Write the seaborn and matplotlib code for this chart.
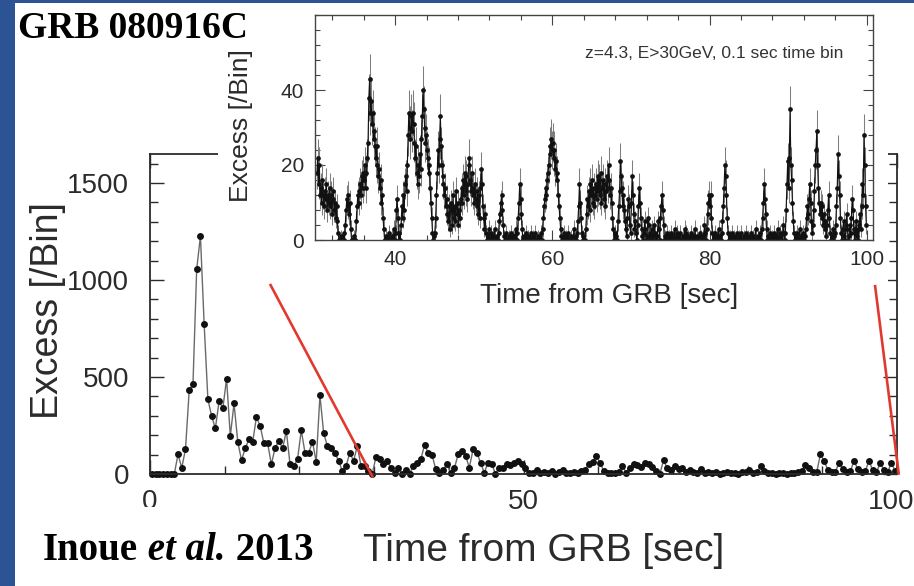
import numpy as np
import matplotlib
matplotlib.use("Agg")
import matplotlib.pyplot as plt
from matplotlib.patches import Rectangle
from matplotlib.lines import Line2D
from matplotlib.text import Annotation
from matplotlib.ticker import MultipleLocator, FixedLocator
from matplotlib.transforms import ScaledTranslation
import seaborn as sns

# ---------------- data ----------------
# Main light curve: excess counts in 0.5 s bins (bin centres 0.25 ... 99.75 s)
main_bin = 0.5
main_00_10 = [0, 0, 0, 0, 0, 0, 0, 101, 32, 127, 431, 462, 1055, 1227, 772, 385, 299, 235, 376, 338]
main_10_20 = [491, 196, 364, 166, 71, 132, 179, 166, 294, 247, 158, 158, 50, 136, 170, 132, 222, 50, 41, 76]
main_20_30 = [225, 110, 110, 166, 63, 405, 210, 144, 136, 110, 67, 15, 41, 110, 67, 144, 41, 41, 15, 0]
main_30_40 = [88, 76, 53, 67, 33, 7, 33, 0, 20, 2, 41, 58, 75, 149, 110, 100, 24, 7, 20, 50]
main_40_50 = [7, 30, 101, 118, 93, 33, 127, 110, 58, 7, 58, 50, 2, 33, 33, 50, 45, 55, 67, 50]
main_50_60 = [29, 7, 5, 19, 5, 12, 3, 15, 2, 10, 19, 5, 7, 12, 3, 15, 20, 53, 60, 93]
main_60_70 = [58, 15, 5, 7, 5, 10, 41, 7, 33, 53, 45, 36, 58, 50, 35, 15, 0, 71, 29, 20]
main_70_80 = [41, 25, 29, 10, 20, 8, 5, 24, 5, 10, 3, 8, 2, 6, 10, 3, 5, 2, 8, 12]
main_80_90 = [19, 5, 10, 41, 15, 3, 5, 2, 5, 3, 2, 5, 3, 8, 15, 46, 30, 12, 10, 101]
main_90_100 = [67, 20, 10, 12, 58, 25, 12, 15, 67, 25, 10, 15, 67, 20, 8, 58, 20, 10, 58, 15]

# Inset light curve: z=4.3, E>30 GeV, 0.1 s bins from 30 s to 100 s
inset_start = 30.0
inset_bin = 0.1
inset_30_40 = [18, 22, 15, 20, 12, 14, 10, 16, 12, 9, 13, 11, 15, 8, 12, 10, 14, 9, 12, 7,
               11, 13, 8, 10, 6, 9, 5, 2, 0, 0, 0, 1, 0, 0, 2, 0, 4, 8, 11, 9,
               12, 7, 10, 3, 0, 0, 0, 1, 0, 0, 5, 9, 12, 10, 13, 15, 12, 17, 14, 18,
               16, 20, 14, 18, 22, 26, 38, 43, 34, 37, 31, 34, 27, 29, 25, 22, 25, 20, 17, 19,
               14, 16, 10, 12, 6, 3, 0, 0, 1, 0, 0, 0, 2, 0, 0, 1, 0, 0, 3, 0]
inset_40_50 = [2, 8, 11, 6, 0, 2, 0, 4, 9, 6, 12, 8, 15, 17, 13, 20, 28, 34, 30, 27,
               33, 29, 34, 31, 26, 22, 25, 18, 15, 20, 17, 23, 19, 27, 33, 40, 35, 30, 26, 28,
               24, 22, 18, 20, 14, 10, 6, 2, 0, 1, 2, 6, 12, 18, 24, 20, 27, 33, 25, 20,
               17, 15, 12, 14, 9, 11, 7, 5, 9, 3, 8, 10, 4, 12, 6, 9, 5, 13, 7, 10,
               4, 8, 6, 11, 14, 10, 16, 12, 18, 13, 17, 11, 15, 20, 22, 16, 13, 18, 12, 14]
inset_50_60 = [10, 15, 11, 9, 13, 7, 12, 6, 14, 19, 15, 9, 6, 3, 7, 2, 0, 1, 0, 3,
               0, 0, 2, 0, 1, 0, 3, 0, 0, 1, 0, 2, 5, 7, 10, 12, 8, 4, 1, 0,
               0, 2, 0, 0, 1, 0, 0, 2, 0, 1, 0, 1, 0, 3, 0, 2, 6, 10, 15, 11,
               7, 3, 0, 1, 0, 0, 2, 0, 0, 1, 0, 0, 2, 0, 0, 1, 0, 0, 2, 0,
               0, 1, 0, 0, 0, 2, 0, 3, 6, 9, 11, 14, 12, 16, 18, 20, 23, 25, 27, 24]
inset_60_70 = [26, 22, 24, 19, 21, 16, 18, 12, 9, 6, 3, 1, 0, 0, 2, 0, 0, 1, 0, 0,
               2, 0, 0, 1, 0, 0, 0, 3, 0, 1, 0, 2, 5, 9, 15, 10, 6, 2, 0, 1,
               0, 0, 3, 7, 11, 9, 13, 8, 15, 12, 16, 10, 14, 9, 12, 15, 11, 17, 13, 16,
               12, 18, 10, 14, 16, 11, 15, 9, 13, 17, 14, 20, 16, 12, 14, 10, 6, 3, 0, 2,
               0, 1, 0, 5, 9, 13, 21, 17, 14, 9, 12, 8, 5, 3, 1, 6, 11, 9, 4, 2]
inset_70_80 = [10, 17, 12, 7, 3, 5, 2, 0, 4, 9, 14, 10, 6, 3, 1, 0, 2, 5, 3, 0,
               1, 6, 4, 0, 2, 0, 3, 1, 0, 4, 2, 0, 0, 1, 5, 3, 0, 6, 9, 12,
               8, 4, 0, 1, 0, 2, 0, 0, 1, 0, 0, 2, 0, 1, 0, 3, 0, 0, 2, 0,
               1, 0, 2, 0, 0, 0, 1, 0, 3, 0, 2, 0, 1, 0, 0, 0, 2, 0, 0, 1,
               0, 3, 0, 1, 0, 0, 0, 2, 0, 1, 0, 1, 0, 4, 2, 0, 3, 7, 10, 12]
inset_80_90 = [9, 12, 6, 2, 0, 1, 0, 2, 0, 1, 0, 3, 0, 1, 0, 2, 5, 9, 14, 20,
               17, 12, 6, 2, 0, 1, 0, 0, 2, 0, 0, 1, 0, 0, 2, 0, 0, 1, 0, 0,
               2, 0, 0, 1, 0, 0, 2, 0, 0, 1, 0, 0, 2, 0, 0, 1, 0, 0, 3, 0,
               0, 1, 0, 0, 2, 0, 3, 6, 10, 15, 11, 7, 3, 0, 1, 0, 2, 0, 0, 1,
               0, 0, 2, 0, 1, 0, 3, 0, 0, 2, 0, 1, 0, 4, 2, 0, 2, 8, 15, 21]
inset_90_100 = [14, 22, 35, 20, 16, 10, 5, 2, 0, 1, 0, 2, 0, 0, 3, 0, 1, 0, 2, 0,
                0, 1, 3, 6, 9, 7, 11, 15, 10, 5, 2, 4, 8, 13, 20, 24, 29, 20, 14, 10,
                7, 10, 6, 9, 4, 7, 3, 5, 1, 4, 8, 12, 6, 2, 0, 1, 0, 3, 1, 2,
                4, 9, 14, 23, 17, 12, 6, 2, 0, 3, 5, 1, 0, 4, 7, 3, 0, 1, 4, 2,
                6, 11, 8, 3, 0, 2, 5, 1, 3, 0, 4, 7, 3, 9, 15, 12, 28, 20, 9, 4]

main_excess = np.array(main_00_10 + main_10_20 + main_20_30 + main_30_40 + main_40_50
                       + main_50_60 + main_60_70 + main_70_80 + main_80_90 + main_90_100, float)
main_time = (np.arange(main_excess.size) + 0.5) * main_bin

inset_excess = np.array(inset_30_40 + inset_40_50 + inset_50_60 + inset_60_70
                        + inset_70_80 + inset_80_90 + inset_90_100, float)
inset_time = inset_start + (np.arange(inset_excess.size) + 0.5) * inset_bin
inset_err = np.sqrt(inset_excess + 2.0)  # Poisson-like uncertainty per bin

# ---------------- style ----------------
sns.set_style("ticks")
plt.rcParams["font.family"] = ["Liberation Sans", "DejaVu Sans"]
ink = "#2b2b2b"
slide_blue = "#2c5394"
red = "#e2392f"

W, H = 914, 586
fig = plt.figure(figsize=(W / 100, H / 100), dpi=100)
fig.patch.set_facecolor("white")


def fx(px):
    return px / W


def fy(py):
    return 1 - py / H


# ---------------- main panel ----------------
ax = fig.add_axes([fx(150), fy(474), (897 - 150) / W, (474 - 154) / H])
ax.set_zorder(0)
sns.lineplot(x=main_time, y=main_excess, ax=ax, color="#6a6a6a", linewidth=1.0,
             marker="o", markersize=5.0, markerfacecolor="#111111",
             markeredgecolor="#111111", markeredgewidth=0.0, clip_on=False)
ax.set_xlim(0, 100)
ax.set_ylim(0, 1650)
ax.xaxis.set_major_locator(FixedLocator([0, 50, 100]))
ax.xaxis.set_minor_locator(MultipleLocator(10))
ax.yaxis.set_major_locator(MultipleLocator(500))
ax.yaxis.set_minor_locator(MultipleLocator(100))
ax.tick_params(which="both", direction="in", top=True, right=True,
               color=ink, width=1.0, labelcolor=ink)
ax.tick_params(which="major", length=10)
ax.tick_params(which="minor", length=5.5)
ax.tick_params(axis="y", labelsize=20, pad=15)
ax.tick_params(axis="x", labelsize=20, pad=11)
for sp in ax.spines.values():
    sp.set_color(ink)
    sp.set_linewidth(1.3)
ax.set_xlabel("Time from GRB [sec]", fontsize=28, color=ink)
ax.xaxis.set_label_coords((544 - 150) / 747, (474 - 533) / 320)
ax.set_ylabel("Excess [/Bin]", fontsize=27, color=ink)
ax.yaxis.set_label_coords((66 - 150) / 747, (474 - 311) / 320)

# nudge the last x tick label so it stays inside the slide
fig.canvas.draw()
last = ax.get_xticklabels()[-1]
last.set_transform(last.get_transform() + ScaledTranslation(-6 / 100, 0, fig.dpi_scale_trans))

# white backing behind the inset panel and under the credit line
fig.add_artist(Rectangle((fx(218), fy(315)), (888 - 218) / W, (315 - 3) / H,
                         transform=fig.transFigure, facecolor="white",
                         edgecolor="none", zorder=1))
fig.add_artist(Rectangle((fx(15), 0), (310 - 15) / W, (586 - 507) / H,
                         transform=fig.transFigure, facecolor="white",
                         edgecolor="none", zorder=1))

# ---------------- inset panel ----------------
ax_in = fig.add_axes([fx(315), fy(240), (873 - 315) / W, (240 - 15) / H])
ax_in.set_zorder(3)
ax_in.errorbar(inset_time, inset_excess, yerr=inset_err, fmt="none",
               ecolor="#7e7e7e", elinewidth=0.75, capsize=0, zorder=1)
sns.lineplot(x=inset_time, y=inset_excess, ax=ax_in, color="#111111", linewidth=0.8,
             marker="o", markersize=3.4, markerfacecolor="#111111",
             markeredgecolor="#111111", markeredgewidth=0.0, zorder=2)
ax_in.set_xlim(29.8, 100.8)
ax_in.set_ylim(0, 60)
ax_in.xaxis.set_major_locator(MultipleLocator(20))
ax_in.xaxis.set_minor_locator(MultipleLocator(4))
ax_in.yaxis.set_major_locator(FixedLocator([0, 20, 40]))
ax_in.yaxis.set_minor_locator(MultipleLocator(4))
ax_in.tick_params(which="both", direction="in", top=True, right=True,
                  color="#444444", width=0.8, labelcolor=ink, labelsize=15)
ax_in.tick_params(which="major", length=7)
ax_in.tick_params(which="minor", length=3.5)
ax_in.tick_params(axis="x", pad=7)
ax_in.tick_params(axis="y", pad=8)
for sp in ax_in.spines.values():
    sp.set_color("#444444")
    sp.set_linewidth(1.0)
ax_in.set_xlabel("Time from GRB [sec]", fontsize=20, color=ink)
ax_in.xaxis.set_label_coords((609 - 315) / 558, (240 - 283) / 225)
ax_in.set_ylabel("Excess [/Bin]", fontsize=19, color=ink)
ax_in.yaxis.set_label_coords((253 - 315) / 558, (240 - 126) / 225)
ax_in.text((843 - 315) / 558, (240 - 53) / 225, "z=4.3, E>30GeV, 0.1 sec time bin",
           transform=ax_in.transAxes, ha="right", va="center", fontsize=12.5,
           color="#333333")

# ---------------- zoom guide lines ----------------
for xs, ys in (([16.06, 29.85], [980, -18]), ([97.05, 100.25], [975, -4])):
    fig.add_artist(Line2D(xs, ys, transform=ax.transData, color=red,
                          linewidth=1.9, solid_capstyle="butt", zorder=5))

# ---------------- slide text ----------------
fig.text(fx(18), fy(38), "GRB 080916C", family="Liberation Serif", weight="bold",
         fontsize=27, ha="left", va="baseline", color="black", zorder=6)
serif = dict(family="Liberation Serif", weight="bold", fontsize=28, color="black")
t1 = fig.text(fx(43), fy(560), "Inoue", ha="left", va="baseline", zorder=6, **serif)
t2 = Annotation(" et al.", xy=(1, 0), xycoords=t1, ha="left", va="bottom",
                style="italic", zorder=6, **serif)
fig.add_artist(t2)
t3 = Annotation(" 2013", xy=(1, 0), xycoords=t2, ha="left", va="bottom",
                zorder=6, **serif)
fig.add_artist(t3)

# slide frame
fig.add_artist(Rectangle((0, 0), fx(15), 1, transform=fig.transFigure,
                         facecolor=slide_blue, edgecolor="none", zorder=7))
fig.add_artist(Rectangle((0, fy(3)), 1, 3 / H, transform=fig.transFigure,
                         facecolor=slide_blue, edgecolor="none", zorder=7))

fig.savefig("out.png", dpi=100)
